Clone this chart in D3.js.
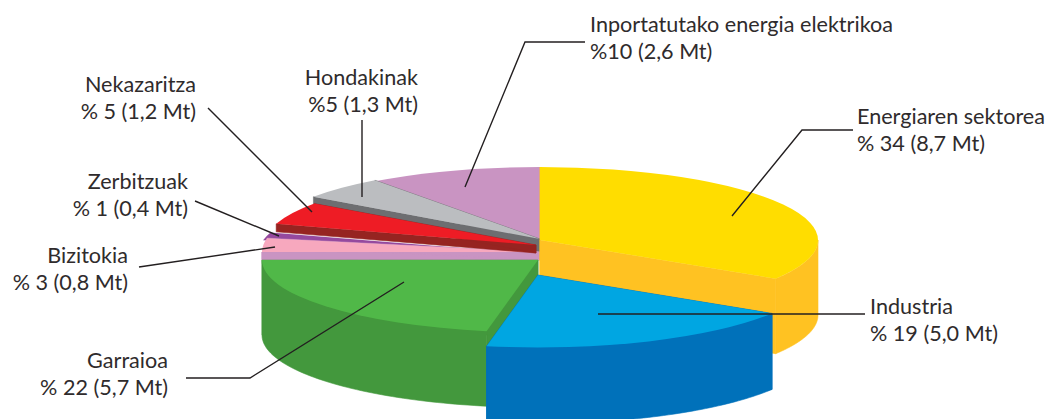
<!DOCTYPE html>
<html><head><meta charset="utf-8">
<script src="https://cdnjs.cloudflare.com/ajax/libs/d3/7.8.5/d3.min.js"></script>
<style>html,body{margin:0;background:#fff;overflow:hidden}text{font-family:Lato,sans-serif;font-size:21.6px;fill:#2f2b2c}</style>
</head><body><svg id="c" width="1046" height="419"></svg>
<script>
const categories=["Energiaren sektorea","Industria","Garraioa","Bizitokia","Zerbitzuak","Nekazaritza","Hondakinak","Inportatutako energia elektrikoa"];
const shares=[33.9,19.1,22,3.06,1.75,5.05,5.05,10.12];
const amounts=["% 34 (8,7 Mt)","% 19 (5,0 Mt)","% 22 (5,7 Mt)","% 3 (0,8 Mt)","% 1 (0,4 Mt)","% 5 (1,2 Mt)","%5 (1,3 Mt)","%10 (2,6 Mt)"];
const topColors=["#FFDD00","#00A6E2","#50B848","#F7A8BE","#95499E","#EE1C25","#BBBDC0","#C994C2"];
const wallColors=["#FFC222","#0071BA","#43983D","#C994C2","#95499E","#962421","#6D6E71","#C994C2"];
const centerX=[540,538,538,540,536,536,540,540];
const centerY=[240,275,260,252,254,245,239,240];
const radii=[278,276,276,278,278,272,278,278];
const depths=[75,76,75,8,0,8,13,0];
const drawOrder=[7,6,4,3,5,0,2,1];
const labelX=[857,870,168,128,188,196,418,590];
const labelY=[124,314,368,263,189,92,85,32];
const labelAnchor=["start","start","end","end","end","end","end","start"];
const leaders=[
 [[853,130],[802,130],[732,216]],
 [[865,314],[598,314]],
 [[186,378],[250,378],[404,282]],
 [[139,267],[275,247]],
 [[195,201],[279,236]],
 [[208,108],[312,212]],
 [[362,120],[362,197]],
 [[585,42],[525,42],[465,187]]
];
const TILT=73/278;
const svg=d3.select("#c");
const arcs=d3.pie().sort(null)(shares);
const px=(i,a)=>centerX[i]+radii[i]*Math.sin(a);
const py=(i,a)=>centerY[i]-radii[i]*TILT*Math.cos(a);
const line=d3.line();
drawOrder.forEach(i=>{
  const s=arcs[i],d=depths[i],g=svg.append("g");
  const wall=p=>g.append("path").attr("fill",wallColors[i]).attr("stroke",wallColors[i]).attr("stroke-width",0.6).attr("d",p);
  if(d>0){
    const a0=Math.max(s.startAngle,Math.PI/2),a1=Math.min(s.endAngle,3*Math.PI/2);
    [s.startAngle,s.endAngle].forEach(a=>{
      const cx=centerX[i],cy=centerY[i];
      wall(line([[cx,cy],[px(i,a),py(i,a)],[px(i,a),py(i,a)+d],[cx,cy+d]])+"Z");
    });
    if(a1>a0){
      const as=d3.range(0,61).map(k=>a0+(a1-a0)*k/60);
      const top=as.map(a=>[px(i,a),py(i,a)]);
      const bot=as.slice().reverse().map(a=>[px(i,a),py(i,a)+d]);
      wall(line(top.concat(bot))+"Z");
    }
  }
  g.append("path").attr("fill",topColors[i]).attr("d",d3.arc().innerRadius(0).outerRadius(radii[i])(s))
   .attr("transform",`translate(${centerX[i]},${centerY[i]}) scale(1,${TILT})`);
});
leaders.forEach(l=>svg.append("path").attr("d",line(l)).attr("fill","none").attr("stroke","#231f20").attr("stroke-width",1.4));
categories.forEach((c,i)=>{
  const t=svg.append("text").attr("text-anchor",labelAnchor[i]);
  t.append("tspan").attr("x",labelX[i]).attr("y",labelY[i]).text(c);
  t.append("tspan").attr("x",labelX[i]).attr("y",labelY[i]+27).text(amounts[i]);
});
</script></body></html>
